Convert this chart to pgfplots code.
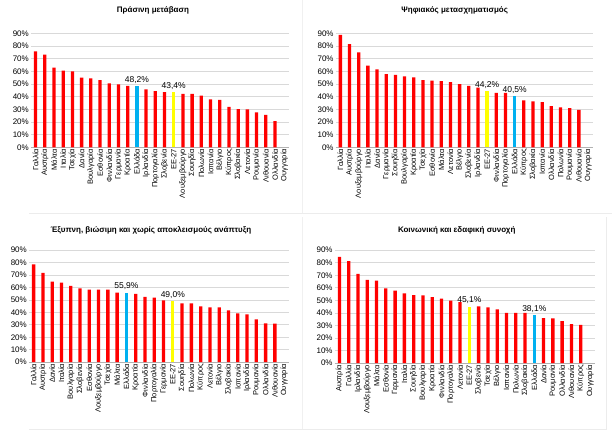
\documentclass[border=0pt]{standalone}
\usepackage{pgfplots}
\pgfplotsset{compat=1.18}
\usepackage{fontspec}
\setmainfont{Liberation Sans}

\definecolor{barred}{HTML}{FF0000}
\definecolor{barblue}{HTML}{00B0F0}
\definecolor{baryel}{HTML}{FFFF00}

\pgfplotsset{
  panel/.style={
    scale only axis, anchor=south west,
    xmin=-0.5, xmax=27.5, ymin=0, ymax=90,
    axis line style={draw=none},
    major tick length=0pt,
    ytick={0,10,...,90},
    yticklabels={0\%,10\%,20\%,30\%,40\%,50\%,60\%,70\%,80\%,90\%},
    ymajorgrids, grid style={draw=gray!30, line width=0.8pt},
    extra y ticks={0}, extra y tick labels={},
    extra y tick style={grid style={draw=gray!60, line width=0.8pt}},
    xtick={0,...,27},
    xticklabel style={rotate=90, anchor=east, font=\fontsize{7.5}{8}\selectfont, inner sep=1.5pt},
    yticklabel style={font=\fontsize{8}{9}\selectfont, inner sep=2pt},
    /pgf/number format/assume math mode=true,
    clip=false,
  },
  redbar/.style={ybar, bar width=3.3pt, fill=barred, draw=none},
  hlbar/.style={ybar, bar width=3.3pt, fill=#1, draw=none,
    nodes near coords={\pgfmathprintnumber[fixed,fixed zerofill,precision=1,use comma]{\pgfplotspointmeta}\%},
    every node near coord/.style={font=\fontsize{8.5}{9}\selectfont, inner sep=2.5pt, black}},
}

\begin{document}
\begin{tikzpicture}
\path (0pt,0pt) rectangle (612pt,431pt);
% faint panel frames
\draw[gray!15, line width=0.8pt] (29pt,218pt) -- (612pt,218pt);
\draw[gray!12, line width=0.8pt] (303pt,218pt) -- (303pt,431pt);
\draw[gray!12, line width=0.8pt] (303pt,2pt) -- (303pt,214pt);
\draw[gray!15, line width=0.8pt] (29pt,2pt) -- (607pt,2pt) -- (607pt,214pt);

\node[font=\bfseries\fontsize{8}{9}\selectfont] at (153pt,421pt) {Πράσινη μετάβαση};
\node[font=\bfseries\fontsize{8}{9}\selectfont] at (455pt,421pt) {Ψηφιακός μετασχηματισμός};
\node[font=\bfseries\fontsize{8}{9}\selectfont] at (151pt,201pt) {Έξυπνη, βιώσιμη και χωρίς αποκλεισμούς ανάπτυξη};
\node[font=\bfseries\fontsize{8}{9}\selectfont] at (457pt,201pt) {Κοινωνική και εδαφική συνοχή};

% Panel 1
\begin{axis}[panel, at={(31pt,284pt)}, width=258pt, height=114pt,
  xticklabels={Γαλλία,Αυστρία,Μάλτα,Ιταλία,Τσεχία,Δανία,Βουλγαρία,Εσθονία,Φινλανδία,Γερμανία,Κροατία,Ελλάδα,Ιρλανδία,Πορτογαλία,Σλοβενία,ΕΕ-27,Λουξεμβούργο,Σουηδία,Πολωνία,Ισπανία,Βέλγιο,Κύπρος,Σλοβακία,Λετονία,Ρουμανία,Λιθουανία,Ολλανδία,Ουγγαρία}]
\addplot[redbar] coordinates {(0,75.8) (1,73.2) (2,63.0) (3,60.5) (4,60.0) (5,55.0) (6,54.4) (7,53.0) (8,50.6) (9,49.8) (10,48.6) (12,45.7) (13,44.3) (14,43.6) (16,42.3) (17,42.2) (18,40.8) (19,37.9) (20,37.4) (21,31.9) (22,30.1) (23,30.0) (24,27.6) (25,25.7) (26,20.7)};
\addplot[hlbar=barblue] coordinates {(11,48.2)};
\addplot[hlbar=baryel] coordinates {(15,43.4)};
\end{axis}

% Panel 2
\begin{axis}[panel, at={(336pt,284pt)}, width=257pt, height=114pt,
  xticklabels={Γαλλία,Αυστρία,Λουξεμβούργο,Ιταλία,Δανία,Γερμανία,Σουηδία,Βουλγαρία,Κροατία,Τσεχία,Εσθονία,Μάλτα,Λετονία,Βέλγιο,Σλοβενία,Ιρλανδία,ΕΕ-27,Φινλανδία,Πορτογαλία,Ελλάδα,Κύπρος,Σλοβακία,Ισπανία,Ολλανδία,Πολωνία,Ρουμανία,Λιθουανία,Ουγγαρία}]
\addplot[redbar] coordinates {(0,88.8) (1,81.5) (2,75.0) (3,64.5) (4,61.5) (5,57.8) (6,57.3) (7,56.0) (8,55.2) (9,53.0) (10,52.7) (11,52.2) (12,51.4) (13,50.0) (14,48.5) (15,47.2) (17,43.0) (18,43.0) (20,37.0) (21,36.3) (22,35.6) (23,32.6) (24,31.6) (25,31.0) (26,29.5)};
\addplot[hlbar=baryel] coordinates {(16,44.2)};
\addplot[hlbar=barblue] coordinates {(19,40.5)};
\end{axis}

% Panel 3
\begin{axis}[panel, at={(29pt,69pt)}, width=260pt, height=112pt,
  xticklabels={Γαλλία,Αυστρία,Δανία,Ιταλία,Βουλγαρία,Σλοβενία,Εσθονία,Λουξεμβούργο,Τσεχία,Μάλτα,Ελλάδα,Κροατία,Φινλανδία,Πορτογαλία,Γερμανία,ΕΕ-27,Σουηδία,Πολωνία,Κύπρος,Λετονία,Βέλγιο,Σλοβακία,Ισπανία,Ιρλανδία,Ρουμανία,Ολλανδία,Λιθουανία,Ουγγαρία}]
\addplot[redbar] coordinates {(0,78.6) (1,71.9) (2,64.7) (3,63.9) (4,61.3) (5,59.4) (6,58.4) (7,58.3) (8,58.3) (9,56.0) (11,54.9) (12,52.5) (13,52.0) (14,49.6) (16,47.3) (17,47.2) (18,44.8) (19,44.0) (20,44.0) (21,41.6) (22,39.2) (23,38.4) (24,34.4) (25,31.1) (26,31.0)};
\addplot[hlbar=barblue] coordinates {(10,55.9)};
\addplot[hlbar=baryel] coordinates {(15,49.0)};
\end{axis}

% Panel 4
\begin{axis}[panel, at={(335pt,68pt)}, width=260pt, height=113pt,
  xticklabels={Αυστρία,Γαλλία,Ιρλανδία,Λουξεμβούργο,Μάλτα,Εσθονία,Γερμανία,Ιταλία,Σουηδία,Βουλγαρία,Κροατία,Φινλανδία,Πορτογαλία,Λετονία,ΕΕ-27,Σλοβενία,Τσεχία,Βέλγιο,Ισπανία,Πολωνία,Σλοβακία,Ελλάδα,Δανία,Ρουμανία,Ολλανδία,Λιθουανία,Κύπρος,Ουγγαρία}]
\addplot[redbar] coordinates {(0,84.8) (1,81.4) (2,71.2) (3,66.4) (4,65.7) (5,59.7) (6,57.8) (7,55.7) (8,54.2) (9,54.1) (10,52.6) (11,51.5) (12,49.8) (13,48.6) (15,45.2) (16,44.5) (17,42.8) (18,40.0) (19,40.0) (20,40.0) (22,35.8) (23,35.7) (24,33.6) (25,31.1) (26,30.6)};
\addplot[hlbar=baryel] coordinates {(14,45.1)};
\addplot[hlbar=barblue] coordinates {(21,38.1)};
\end{axis}
\end{tikzpicture}
\end{document}
